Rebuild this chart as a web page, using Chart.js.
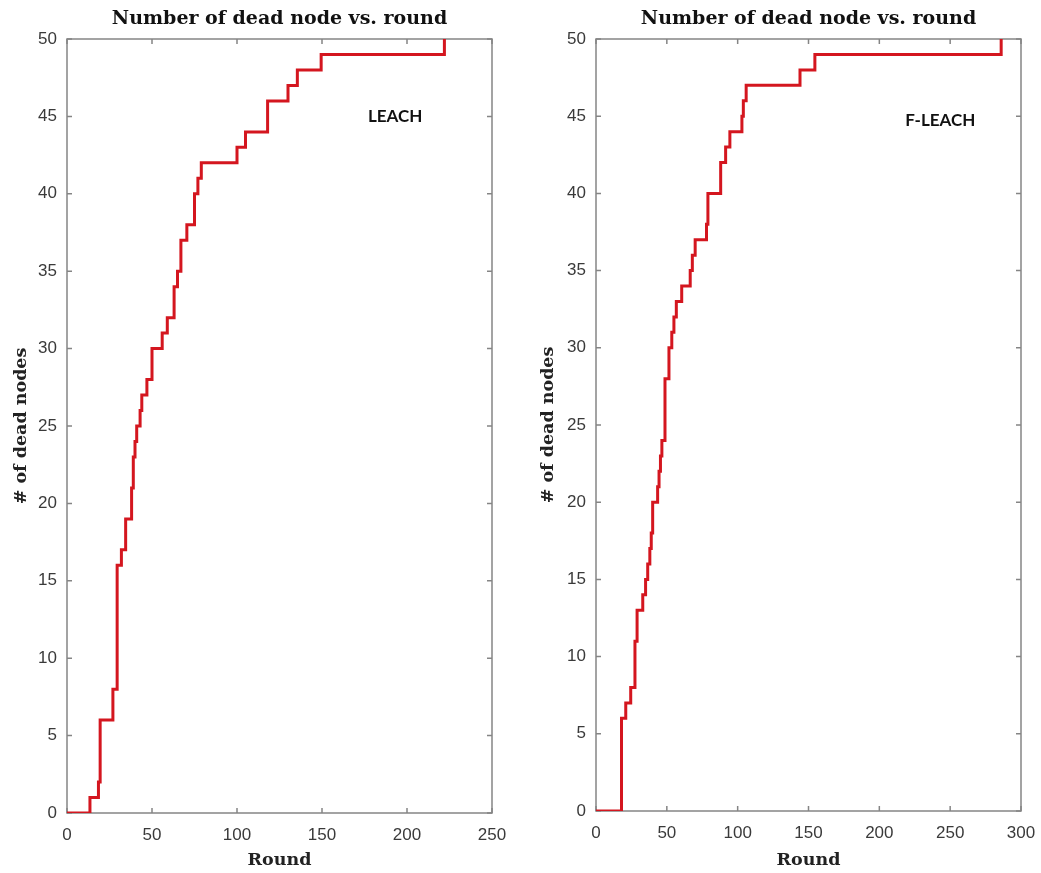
<!DOCTYPE html>
<html>
<head>
<meta charset="utf-8">
<script src="https://cdn.jsdelivr.net/npm/chart.js@4.4.1/dist/chart.umd.min.js"></script>
<style>
  body { margin: 0; background: #fff; }
  canvas { position: absolute; top: 0; }
</style>
</head>
<body>
<canvas id="leachChart" width="520" height="873" style="left:0px"></canvas>
<canvas id="fleachChart" width="516" height="873" style="left:525px"></canvas>
<script>
// LEACH: round at which the dead-node count steps to the new value
const leachRounds = [0, 13.5, 18.5, 19.5, 27, 29.5, 32, 34.5, 38, 39, 40, 41, 43, 44, 47, 50, 56, 59, 63, 65, 67, 70.5, 75, 77, 79, 100, 105, 118, 130, 135.5, 149.5, 222];
const leachDead   = [0, 1, 2, 6, 8, 16, 17, 19, 21, 23, 24, 25, 26, 27, 28, 30, 31, 32, 34, 35, 37, 38, 40, 41, 42, 43, 44, 46, 47, 48, 49, 50];

// F-LEACH
const fleachRounds = [0, 18, 21, 24.5, 27.5, 29, 33, 35, 36.5, 38, 39, 40, 43.5, 44.5, 45.5, 46.5, 48.7, 51.5, 53.5, 55, 56.7, 60.5, 66.5, 68, 70, 78, 79, 88, 91.5, 94.5, 103, 104, 106, 144, 154.5, 286];
const fleachDead   = [0, 6, 7, 8, 11, 13, 14, 15, 16, 17, 18, 20, 21, 22, 23, 24, 28, 30, 31, 32, 33, 34, 35, 36, 37, 38, 40, 42, 43, 44, 45, 46, 47, 48, 49, 50];

const xTicksLeft = [0, 50, 100, 150, 200, 250];
const xTicksRight = [0, 50, 100, 150, 200, 250, 300];
const yTicks = [0, 5, 10, 15, 20, 25, 30, 35, 40, 45, 50];

const titleText = 'Number of dead node vs. round';
const serif = "'DejaVu Serif', 'Liberation Serif', serif";
const tickFont = "'Liberation Sans Narrow', 'Liberation Sans', Arial, sans-serif";

// draws the MATLAB style box with inward ticks, and the in-plot label
const boxPlugin = {
  id: 'box',
  beforeDatasetsDraw(chart) {
    const { ctx, chartArea: a, scales: { x, y } } = chart;
    ctx.save();
    ctx.strokeStyle = '#858585';
    ctx.lineWidth = 1.5;
    ctx.strokeRect(a.left, a.top, a.right - a.left, a.bottom - a.top);
    ctx.beginPath();
    x.ticks.forEach(t => {
      const px = x.getPixelForValue(t.value);
      ctx.moveTo(px, a.bottom); ctx.lineTo(px, a.bottom - 5);
      ctx.moveTo(px, a.top); ctx.lineTo(px, a.top + 5);
    });
    y.ticks.forEach(t => {
      const py = y.getPixelForValue(t.value);
      ctx.moveTo(a.left, py); ctx.lineTo(a.left + 5, py);
      ctx.moveTo(a.right, py); ctx.lineTo(a.right - 5, py);
    });
    ctx.stroke();
    ctx.restore();
  },
  afterDatasetsDraw(chart, args, opts) {
    const { ctx, scales: { x, y } } = chart;
    ctx.save();
    ctx.fillStyle = '#111';
    ctx.font = "bold 17px Lato, 'Open Sans', sans-serif";
    ctx.textAlign = 'center';
    ctx.textBaseline = 'middle';
    ctx.fillText(opts.text, x.getPixelForValue(opts.at[0]), y.getPixelForValue(opts.at[1]));
    ctx.restore();
  }
};

function makeChart(id, rounds, dead, xTicks, cfg) {
  const points = rounds.map((r, i) => ({ x: r, y: dead[i] }));
  return new Chart(document.getElementById(id), {
    type: 'line',
    data: {
      datasets: [{
        data: points,
        stepped: 'before',
        borderColor: '#d4161f',
        borderWidth: 3,
        pointRadius: 0,
        fill: false
      }]
    },
    plugins: [boxPlugin],
    options: {
      responsive: false,
      animation: false,
      layout: { padding: { left: 0, right: cfg.padRight, top: 0, bottom: 0 } },
      plugins: {
        legend: { display: false },
        tooltip: { enabled: false },
        title: {
          display: true,
          text: titleText,
          fullSize: false,
          color: '#111',
          font: { family: serif, size: 19, weight: 'bold', lineHeight: 1.2 },
          padding: { top: 8, bottom: 8.2 }
        },
        box: { text: cfg.label, at: cfg.labelAt }
      },
      scales: {
        x: {
          type: 'linear',
          min: xTicks[0],
          max: xTicks[xTicks.length - 1],
          afterBuildTicks: s => { s.ticks = xTicks.map(v => ({ value: v })); },
          afterFit: s => { s.height = cfg.xHeight; },
          grid: { display: false },
          border: { display: false },
          ticks: { color: '#3a3a3a', padding: 4, font: { family: tickFont, size: 17 } },
          title: {
            display: true,
            text: 'Round',
            color: '#222',
            font: { family: serif, size: 17.5, weight: 'bold', lineHeight: 1.2 },
            padding: { top: 0, bottom: 2 }
          }
        },
        y: {
          type: 'linear',
          min: 0,
          max: 50,
          afterBuildTicks: s => { s.ticks = yTicks.map(v => ({ value: v })); },
          afterFit: s => { s.width = cfg.yWidth; },
          grid: { display: false },
          border: { display: false },
          ticks: { color: '#3a3a3a', padding: 2, font: { family: tickFont, size: 17 } },
          title: {
            display: true,
            text: '# of dead nodes',
            color: '#222',
            font: { family: serif, size: 17.5, weight: 'bold', lineHeight: 1.2 },
            padding: { top: cfg.yTitlePad, bottom: 0 }
          }
        }
      }
    }
  });
}

makeChart('leachChart', leachRounds, leachDead, xTicksLeft,
  { label: 'LEACH', labelAt: [193, 45], xHeight: 60, yWidth: 67, padRight: 28, yTitlePad: 11 });
makeChart('fleachChart', fleachRounds, fleachDead, xTicksRight,
  { label: 'F-LEACH', labelAt: [243, 44.7], xHeight: 62, yWidth: 71, padRight: 20, yTitlePad: 13 });
</script>
</body>
</html>
